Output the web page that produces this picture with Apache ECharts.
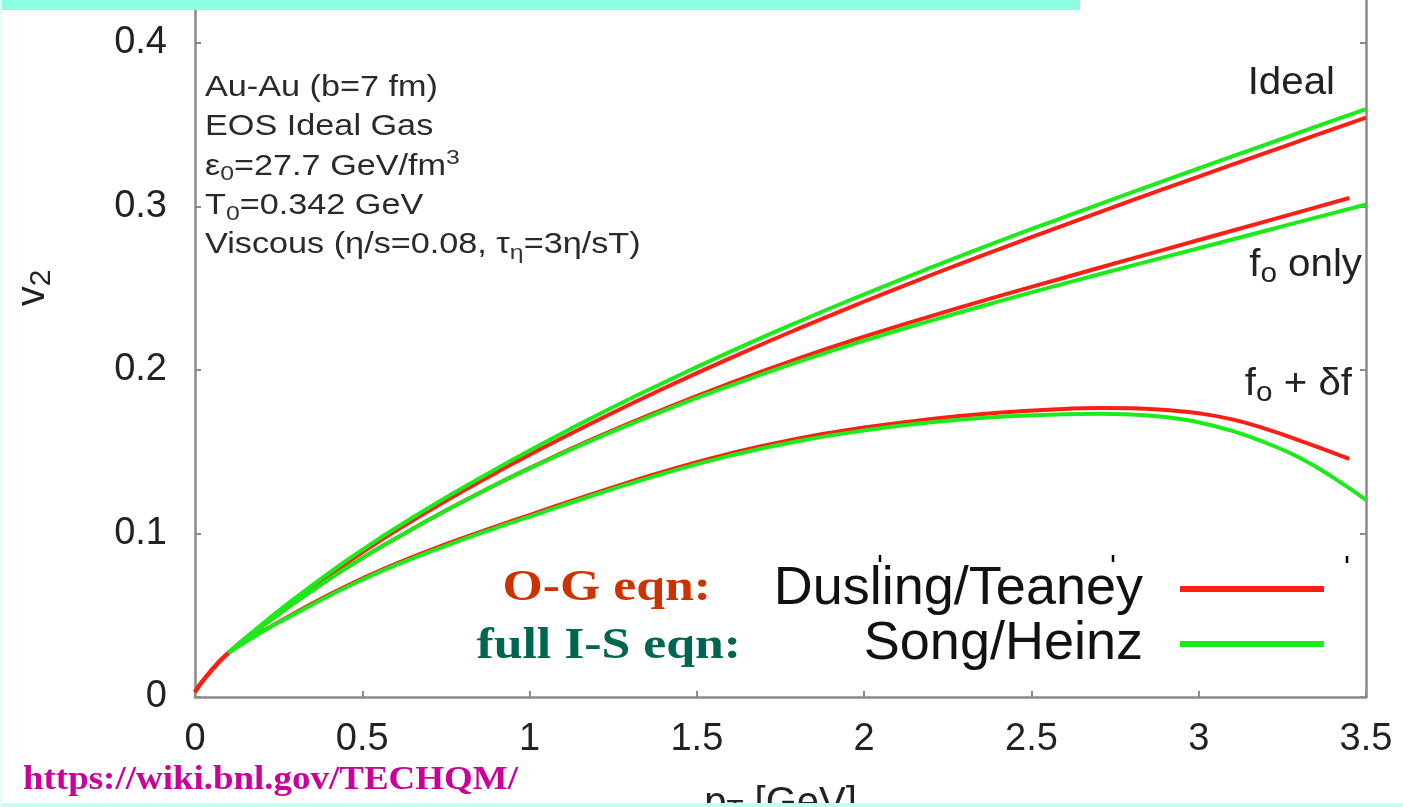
<!DOCTYPE html>
<html>
<head>
<meta charset="utf-8">
<title>v2 vs pT — viscous hydro comparison</title>
<script src="https://cdn.jsdelivr.net/npm/echarts@6/dist/echarts.min.js"></script>
<style>
  html, body { margin: 0; padding: 0; background: #ffffff; }
  #chart { width: 1403px; height: 807px; }
</style>
</head>
<body>
<div id="chart"></div>
<script>
// Tick values
const xTicks = [0, 0.5, 1, 1.5, 2, 2.5, 3, 3.5];
const yTicks = [0, 0.1, 0.2, 0.3, 0.4];

// pT grids (GeV)
const ptDuslingIdeal = [0, 0.03, 0.1, 0.2, 0.3, 0.4, 0.5, 0.6, 0.75, 0.9, 1.0, 1.2, 1.4, 1.6, 1.8, 2.0, 2.2, 2.4, 2.6, 2.8, 3.0, 3.2, 3.35, 3.5];
const ptDuslingF0 = [0, 0.03, 0.1, 0.2, 0.3, 0.4, 0.5, 0.6, 0.75, 0.9, 1.0, 1.2, 1.4, 1.6, 1.8, 2.0, 2.2, 2.4, 2.6, 2.8, 3.0, 3.2, 3.35, 3.45];
const ptDuslingDf = [0, 0.03, 0.1, 0.2, 0.3, 0.4, 0.5, 0.6, 0.75, 0.9, 1.0, 1.2, 1.4, 1.6, 1.8, 2.0, 2.2, 2.4, 2.6, 2.7, 2.8, 2.9, 3.0, 3.1, 3.2, 3.3, 3.4, 3.45];
const ptSong = [0.1, 0.2, 0.3, 0.4, 0.5, 0.6, 0.75, 0.9, 1.0, 1.2, 1.4, 1.6, 1.8, 2.0, 2.2, 2.4, 2.6, 2.8, 3.0, 3.2, 3.35, 3.5];
const ptSongDf = [0.1, 0.2, 0.3, 0.4, 0.5, 0.6, 0.75, 0.9, 1.0, 1.2, 1.4, 1.6, 1.8, 2.0, 2.2, 2.4, 2.6, 2.7, 2.8, 2.9, 3.0, 3.1, 3.2, 3.3, 3.4, 3.5];

// Dusling/Teaney (O-G equations)
const dtIdeal = [0.003, 0.0116, 0.027, 0.0438, 0.0596, 0.0745, 0.0885, 0.1017, 0.1200, 0.1372, 0.1482, 0.1690, 0.1887, 0.2073, 0.2250, 0.2419, 0.2581, 0.2737, 0.2888, 0.3037, 0.3183, 0.3328, 0.3436, 0.3544];
const dtF0 = [0.003, 0.0116, 0.027, 0.0430, 0.0580, 0.0720, 0.0850, 0.0970, 0.1140, 0.1300, 0.1400, 0.1588, 0.1760, 0.1920, 0.2068, 0.2204, 0.2330, 0.2450, 0.2566, 0.2681, 0.2795, 0.2909, 0.2995, 0.3052];
const dtF0df = [0.003, 0.0116, 0.027, 0.0400, 0.0515, 0.0625, 0.0725, 0.0815, 0.0935, 0.1043, 0.1113, 0.1250, 0.1378, 0.1490, 0.1580, 0.1648, 0.1700, 0.1738, 0.1762, 0.1768, 0.1766, 0.1755, 0.1735, 0.1698, 0.1640, 0.1570, 0.1495, 0.1456];

// Song/Heinz (full Israel-Stewart equations)
const shIdeal = [0.027, 0.0445, 0.0606, 0.0758, 0.0900, 0.1034, 0.1220, 0.1395, 0.1507, 0.1722, 0.1922, 0.2112, 0.2292, 0.2463, 0.2627, 0.2785, 0.2937, 0.3086, 0.3233, 0.3379, 0.3488, 0.3596];
const shF0 = [0.027, 0.0430, 0.0580, 0.0720, 0.0850, 0.0970, 0.1140, 0.1300, 0.1398, 0.1582, 0.1750, 0.1905, 0.2048, 0.2180, 0.2302, 0.2418, 0.2530, 0.2638, 0.2745, 0.2852, 0.2932, 0.3012];
const shF0df = [0.027, 0.0398, 0.0510, 0.0618, 0.0717, 0.0806, 0.0925, 0.1035, 0.1103, 0.1240, 0.1366, 0.1476, 0.1564, 0.1630, 0.1680, 0.1713, 0.1730, 0.1732, 0.1728, 0.1712, 0.1680, 0.1628, 0.1555, 0.1465, 0.1345, 0.1205];

const seriesNames = ['Dusling/Teaney', 'Song/Heinz'];
const curveLabels = ['Ideal', 'f{s|o} only', 'f{s|o} + δf'];
const infoLines = [
  'Au-Au (b=7 fm)',
  'EOS Ideal Gas',
  'ε{s|0}=27.7 GeV/fm{p|3}',
  'T{s|0}=0.342 GeV',
  'Viscous (η/s=0.08, τ{s|η}=3η/sT)'
];
const methodLabels = ['O-G eqn:', 'full I-S eqn:'];
const sourceUrl = 'https://wiki.bnl.gov/TECHQM/';

const RED = '#ff1e14';
const GREEN = '#19ec19';
const AXIS = '#8a8a8a';
const SANS = '"Liberation Sans", Arial, Helvetica, sans-serif';
const SERIF = '"Liberation Serif", "Times New Roman", Times, serif';

function pairs(xs, ys) { return xs.map((x, i) => [x, ys[i]]); }

function curve(name, color, xs, ys) {
  return {
    type: 'line',
    name: name,
    data: pairs(xs, ys),
    smooth: 0.5,
    showSymbol: false,
    color: color,
    lineStyle: { color: color, width: 4 },
    emphasis: { disabled: true },
    z: 3
  };
}

const subRich = {
  s: { fontSize: 21, fontFamily: SANS, fill: '#333', color: '#333', padding: [16, 0, 0, 0], verticalAlign: 'bottom' },
  p: { fontSize: 21, fontFamily: SANS, fill: '#333', color: '#333', padding: [0, 0, 16, 0], verticalAlign: 'top' }
};

const graphics = [];

// parameter block
infoLines.forEach((t, i) => {
  graphics.push({
    type: 'text', x: 205, y: 88 + i * 39.3, scaleX: 1.18, z: 10,
    style: {
      text: t, fontSize: 29, fontFamily: SANS, fill: '#2a2a2a',
      align: 'left', verticalAlign: 'middle', textAlign: 'left', textVerticalAlign: 'middle',
      rich: subRich
    }
  });
});

// curve labels
const labelPos = [[1335, 84], [1362, 266], [1352, 385]];
curveLabels.forEach((t, i) => {
  graphics.push({
    type: 'text', x: labelPos[i][0], y: labelPos[i][1], scaleX: 1.06, z: 10,
    style: {
      text: t, fontSize: 38, fontFamily: SANS, fill: '#222',
      align: 'right', verticalAlign: 'middle', textAlign: 'right', textVerticalAlign: 'middle',
      rich: { s: { fontSize: 28, fontFamily: SANS, fill: '#222', color: '#222', padding: [16, 0, 0, 0], verticalAlign: 'bottom' } }
    }
  });
});

// method labels beside the legend
const methodColors = ['#cc3300', '#00664f'];
const methodPos = [[711, 588], [741, 646]];
methodLabels.forEach((t, i) => {
  graphics.push({
    type: 'text', x: methodPos[i][0], y: methodPos[i][1], scaleX: 1.15, z: 10,
    style: {
      text: t, fontSize: 45, fontWeight: 'bold', fontFamily: SERIF, fill: methodColors[i],
      align: 'right', verticalAlign: 'middle', textAlign: 'right', textVerticalAlign: 'middle'
    }
  });
});

// source link
graphics.push({
  type: 'text', x: 23, y: 780, scaleX: 1.12, z: 10,
  style: {
    text: sourceUrl, fontSize: 33, fontWeight: 'bold', fontFamily: SERIF, fill: '#cc0099',
    align: 'left', verticalAlign: 'middle', textAlign: 'left', textVerticalAlign: 'middle'
  }
});

// y-axis title v2, rotated
graphics.push({
  type: 'text', x: 33, y: 288, rotation: Math.PI / 2, z: 10,
  style: {
    text: 'v{s|2}', fontSize: 40, fontFamily: SANS, fill: '#222',
    align: 'center', verticalAlign: 'middle', textAlign: 'center', textVerticalAlign: 'middle',
    rich: { s: { fontSize: 30, fontFamily: SANS, fill: '#222', color: '#222', padding: [18, 0, 0, 0], verticalAlign: 'bottom' } }
  }
});

// leftover frame ticks above the legend
[[880, 555], [1113, 555], [1347, 556]].forEach(p => {
  graphics.push({
    type: 'line', z: 10,
    shape: { x1: p[0], y1: p[1], x2: p[0], y2: p[1] + 7 },
    style: { stroke: '#000', lineWidth: 2.5 }
  });
});

// page banner strips
graphics.push({ type: 'rect', z: 20, shape: { x: 0, y: 0, width: 1080, height: 10 }, style: { fill: '#8cffe2' } });
graphics.push({ type: 'rect', z: 20, shape: { x: 0, y: 803, width: 1403, height: 4 }, style: { fill: '#c6fff0' } });
graphics.push({ type: 'rect', z: 20, shape: { x: 0, y: 0, width: 2, height: 807 }, style: { fill: '#dcfff6' } });

const yMax = 0.4263;

const chart = echarts.init(document.getElementById('chart'), null, { renderer: 'canvas' });
chart.setOption({
  animation: false,
  backgroundColor: '#ffffff',
  grid: { left: 195, right: 37, top: 0, bottom: 110, containLabel: false, outerBoundsMode: 'none' },
  legend: {
    data: seriesNames,
    orient: 'vertical',
    align: 'right',
    right: 74,
    top: 557,
    itemWidth: 144,
    itemHeight: 6,
    itemGap: 1,
    icon: 'rect',
    selectedMode: false,
    textStyle: { fontSize: 54, fontFamily: SANS, color: '#111', padding: [0, 32, 0, 0] }
  },
  xAxis: {
    type: 'value',
    min: 0, max: 3.5, interval: 0.5,
    name: '{m|p}{s|T}{m| [GeV]}',
    nameLocation: 'middle',
    nameGap: 86,
    nameTextStyle: {
      rich: {
        m: { fontSize: 40, fontFamily: SANS, color: '#222' },
        s: { fontSize: 28, fontFamily: SANS, color: '#222', padding: [14, 0, 0, 0], verticalAlign: 'bottom' }
      }
    },
    axisLine: { show: true, lineStyle: { color: AXIS, width: 2.5 } },
    axisTick: { show: true, inside: true, length: 6, lineStyle: { color: AXIS, width: 2 }, customValues: xTicks },
    axisLabel: { fontSize: 38, fontFamily: SANS, color: '#222', margin: 24, customValues: xTicks },
    splitLine: { show: false }
  },
  yAxis: [
    {
      type: 'value', position: 'left',
      min: 0, max: yMax,
      axisLine: { show: true, lineStyle: { color: AXIS, width: 2.5 } },
      axisTick: { show: true, inside: true, length: 6, lineStyle: { color: AXIS, width: 2 }, customValues: yTicks },
      axisLabel: { fontSize: 38, fontFamily: SANS, color: '#222', margin: 28, customValues: yTicks },
      splitLine: { show: false }
    },
    {
      type: 'value', position: 'right',
      min: 0, max: yMax,
      axisLine: { show: true, lineStyle: { color: AXIS, width: 2.5 } },
      axisTick: { show: true, inside: true, length: 6, lineStyle: { color: AXIS, width: 2 }, customValues: yTicks },
      axisLabel: { show: false },
      splitLine: { show: false }
    }
  ],
  series: [
    curve(seriesNames[0], RED, ptDuslingIdeal, dtIdeal),
    curve(seriesNames[0], RED, ptDuslingF0, dtF0),
    curve(seriesNames[0], RED, ptDuslingDf, dtF0df),
    curve(seriesNames[1], GREEN, ptSong, shIdeal),
    curve(seriesNames[1], GREEN, ptSong, shF0),
    curve(seriesNames[1], GREEN, ptSongDf, shF0df)
  ],
  graphic: { elements: graphics }
});
</script>
</body>
</html>
